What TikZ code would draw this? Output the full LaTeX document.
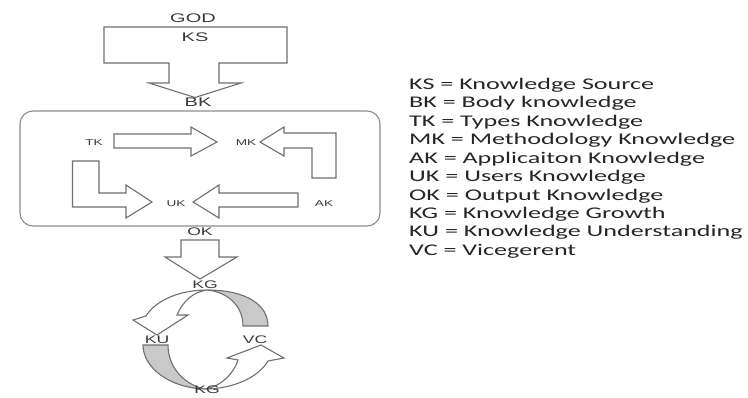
\documentclass[tikz,border=0pt]{standalone}
\usepackage{fontspec}
\newfontfamily\labfont[FakeStretch=1.6]{Liberation Sans}
\newfontfamily\legfont[FakeStretch=1.6]{Carlito}
\definecolor{ln}{HTML}{707070}
\definecolor{tx}{HTML}{3A3A3A}
\definecolor{lg}{HTML}{262626}
\definecolor{gf}{HTML}{C9C9C9}
\begin{document}
\begin{tikzpicture}[x=1pt,y=-1pt,
  blk/.style={draw=ln,line width=1.1pt,fill=white,line join=miter},
  gry/.style={draw=ln,line width=1.1pt,fill=gf},
  lbig/.style={inner sep=0pt,text=tx,font=\labfont\fontsize{12.5}{14}\selectfont},
  lsm/.style={inner sep=0pt,text=tx,font=\labfont\fontsize{8.5}{10}\selectfont},
  lmid/.style={inner sep=0pt,text=tx,font=\labfont\fontsize{11}{13}\selectfont},
  legtxt/.style={inner sep=0pt,anchor=base west,text=lg,font=\legfont\fontsize{16.3}{18.45}\selectfont}]
\useasboundingbox (0,0) rectangle (748,397);
\fill[white] (0,0) rectangle (748,397);

% KS block arrow
\draw[blk] (104,27) -- (287,27) -- (287,63) -- (219,63) -- (219,83) -- (241,83)
  -- (195,97.5) -- (149,83) -- (169,83) -- (169,63) -- (104,63) -- cycle;

% rounded box
\draw[draw=ln!80,line width=1.1pt,rounded corners=13pt] (20,111) rectangle (380,226);

% TK -> MK
\draw[blk] (114,134) -- (191,134) -- (191,127) -- (217,142) -- (191,156) -- (191,148) -- (114,148) -- cycle;
% AK -> MK (L shape)
\draw[blk] (336,178) -- (336,133) -- (284,133) -- (284,127) -- (260,142) -- (284,156) -- (284,148) -- (312,148) -- (312,178) -- cycle;
% TK -> UK (L shape)
\draw[blk] (72.5,161) -- (99,161) -- (99,193) -- (126,193) -- (126,185) -- (152,202) -- (126,218) -- (126,207) -- (72.5,207) -- cycle;
% AK -> UK
\draw[blk] (298,193) -- (219,193) -- (219,185) -- (193,202) -- (219,218) -- (219,207) -- (298,207) -- cycle;

% OK arrow
\draw[blk] (181,240) -- (219,240) -- (219,257) -- (237,257) -- (200,279) -- (165,257) -- (181,257) -- cycle;

% cycle: top arrow
\draw[gry] (243,326) -- (268,326) .. controls (268,304) and (245,290) .. (207,290)
  .. controls (228,292) and (243,306) .. (243,326) -- cycle;
\draw[blk] (207,290) .. controls (180,290) and (156,300) .. (146,316) -- (133,320) -- (157,335)
  -- (188,315) -- (177,315) .. controls (183,301) and (193,292) .. (207,290) -- cycle;
% cycle: bottom arrow
\draw[gry] (143,345) -- (168,345) .. controls (168,368) and (185,385) .. (205,389)
  .. controls (170,388) and (143,368) .. (143,345) -- cycle;
\draw[blk] (205,389) .. controls (232,389) and (258,378) .. (268,361) -- (284,358) -- (261,345)
  -- (227,358) -- (238,360) .. controls (234,373) and (222,386) .. (205,389) -- cycle;

% labels
\node[lbig] (god) at (193,18) {GOD};
\node[lbig] (ks) at (195,37) {KS};
\node[lbig] (bk) at (198,102) {BK};
\node[lsm] (tk) at (94,143) {TK};
\node[lsm] (mk) at (246,143) {MK};
\node[lsm] (uk) at (176,204) {UK};
\node[lsm] (ak) at (324,204) {AK};
\node[lmid] (ok) at (200,232) {OK};
\node[lmid] (kg1) at (205,285) {KG};
\node[lmid] (ku) at (157,340) {KU};
\node[lmid] (vc) at (255,340) {VC};
\node[lmid] (kg2) at (207,390) {KG};

% legend
\node[legtxt] (l1) at (409,89.3) {KS = Knowledge Source};
\node[legtxt] (l2) at (409,107.75) {BK = Body knowledge};
\node[legtxt] (l3) at (409,126.2) {TK = Types Knowledge};
\node[legtxt] (l4) at (409,144.65) {MK = Methodology Knowledge};
\node[legtxt] (l5) at (409,163.1) {AK = Applicaiton Knowledge};
\node[legtxt] (l6) at (409,181.55) {UK = Users Knowledge};
\node[legtxt] (l7) at (409,200) {OK = Output Knowledge};
\node[legtxt] (l8) at (409,218.45) {KG = Knowledge Growth};
\node[legtxt] (l9) at (409,236.9) {KU = Knowledge Understanding};
\node[legtxt] (l10) at (409,255.35) {VC = Vicegerent};
\end{tikzpicture}
\end{document}
